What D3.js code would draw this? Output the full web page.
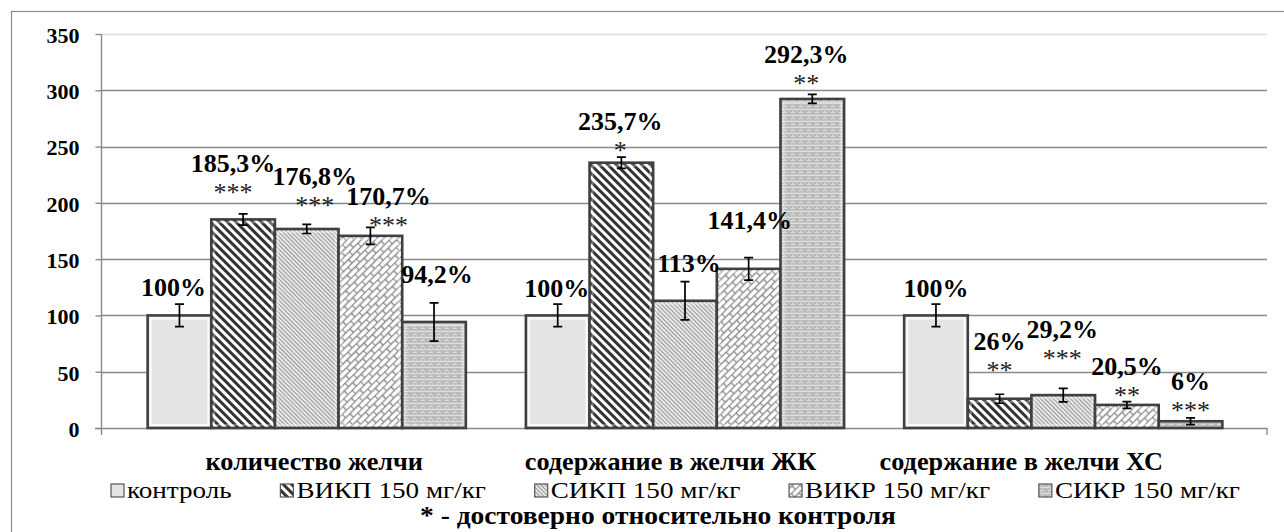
<!DOCTYPE html>
<html><head><meta charset="utf-8">
<script src="https://cdn.jsdelivr.net/npm/d3@7"></script>
<style>body{margin:0;background:#fff;overflow:hidden} svg{display:block}</style>
</head><body><svg id="c" width="1284" height="532"></svg>
<script>
// ---------- data ----------
const categories = ["количество желчи", "содержание в желчи ЖК", "содержание в желчи ХС"];
const seriesNames = ["контроль", "ВИКП 150 мг/кг", "СИКП 150 мг/кг", "ВИКР 150 мг/кг", "СИКР 150 мг/кг"];
const valuesBile = [100, 185.3, 176.8, 170.7, 94.2];
const valuesBA   = [100, 235.7, 113, 141.4, 292.3];
const valuesChol = [100, 26, 29.2, 20.5, 6];
const errBile = [10, 5, 4, 7.5, 17];
const errBA   = [10, 5, 17, 10, 4];
const errChol = [10, 4, 6, 3, 3];
const starsBile = ["", "***", "***", "***", ""];
const starsBA   = ["", "*", "", "", "**"];
const starsChol = ["", "**", "***", "**", "***"];
const yTicks = [0, 50, 100, 150, 200, 250, 300, 350];
const footnote = "* - достоверно относительно контроля";

// label placement nudges (lift above the bar in axis units, horizontal shift in px)
const liftBile = [17.3, 42.1, 39.1, 27.4, 34.6];
const liftBA   = [16.6, 29.0, 25.8, 35.4, 32.2];
const liftChol = [16.6, 43.3, 50.5, 26.6, 27.8];
const shiftBile = [-6, -10, 8, 18, 3];
const shiftBA   = [-1, -1, 4, 1, -6];
const shiftChol = [0, 0, -1, 0, 0];
const catShift = [7.5, -14.5, -42];

const values = [valuesBile, valuesBA, valuesChol];
const errs = [errBile, errBA, errChol];
const stars = [starsBile, starsBA, starsChol];
const lifts = [liftBile, liftBA, liftChol];
const shifts = [shiftBile, shiftBA, shiftChol];

// ---------- setup ----------
const svg = d3.select("#c");
const FONT = '"Liberation Serif"';
const x0 = d3.scaleBand().domain(categories).range([103, 1267]).paddingInner(0.1587).paddingOuter(0.118);
const x1 = d3.scaleBand().domain(seriesNames).range([0, x0.bandwidth()]);
const y = d3.scaleLinear().domain([0, 350]).range([428, 34]);

// ---------- patterns ----------
const defs = svg.append("defs");
let p = defs.append("pattern").attr("id", "p0").attr("patternUnits", "userSpaceOnUse").attr("width", 4).attr("height", 4);
p.append("rect").attr("width", 4).attr("height", 4).attr("fill", "#e4e4e4");
p = defs.append("pattern").attr("id", "p1").attr("patternUnits", "userSpaceOnUse").attr("width", 6).attr("height", 6).attr("patternTransform", "rotate(-45)");
p.append("rect").attr("width", 6).attr("height", 6).attr("fill", "#ffffff");
p.append("rect").attr("width", 3).attr("height", 6).attr("fill", "#333333");
p = defs.append("pattern").attr("id", "p2").attr("patternUnits", "userSpaceOnUse").attr("width", 3).attr("height", 3).attr("patternTransform", "rotate(-45)");
p.append("rect").attr("width", 3).attr("height", 3).attr("fill", "#eeeeee");
p.append("rect").attr("width", 1.2).attr("height", 3).attr("fill", "#9a9a9a");
p = defs.append("pattern").attr("id", "p3").attr("patternUnits", "userSpaceOnUse").attr("width", 12).attr("height", 10).attr("patternTransform", "rotate(-45)");
p.append("rect").attr("width", 12).attr("height", 10).attr("fill", "#ffffff");
p.append("path").attr("d", "M0,0.5H12M0,5.5H12M0.5,0V5.5M6.5,5.5V10").attr("stroke", "#8c8c8c").attr("stroke-width", 1.4).attr("fill", "none");
p = defs.append("pattern").attr("id", "p4").attr("patternUnits", "userSpaceOnUse").attr("width", 8).attr("height", 6);
p.append("rect").attr("width", 8).attr("height", 6).attr("fill", "#b9b9b9");
p.append("path").attr("d", "M0,2 L2,0.8 L4,2 L6,0.8 L8,2 M1,5 L3,3.8 L5,5").attr("stroke", "#f4f4f4").attr("stroke-width", 0.9).attr("fill", "none");

// ---------- outer border ----------
svg.append("rect").attr("x", 11.5).attr("y", 11.5).attr("width", 1300).attr("height", 560)
  .attr("fill", "none").attr("stroke", "#8c8c8c").attr("stroke-width", 1.2);

// ---------- gridlines ----------
svg.append("g").selectAll("line").data(yTicks.filter(t => t > 0)).join("line")
  .attr("x1", 101).attr("x2", 1267)
  .attr("y1", d => Math.round(y(d)) + 0.5).attr("y2", d => Math.round(y(d)) + 0.5)
  .attr("stroke", d => d === 350 ? "#dcdcdc" : "#8a8a8a").attr("stroke-width", 1.4);

// ---------- y axis ----------
const ya = svg.append("g").attr("transform", "translate(101.5,0)")
  .call(d3.axisLeft(y).tickValues(yTicks).tickSize(6).tickPadding(16));
ya.select(".domain").remove();
ya.selectAll(".tick line").attr("stroke", "#8a8a8a").attr("stroke-width", 1.4);
ya.selectAll(".tick text").style("font-family", FONT).attr("font-weight", "bold").attr("font-size", 22)
  .attr("fill", "#000").attr("dy", "0.38em");
svg.append("line").attr("x1", 101.5).attr("x2", 101.5).attr("y1", y(350)).attr("y2", 435)
  .attr("stroke", "#8a8a8a").attr("stroke-width", 1.4);
svg.append("line").attr("x1", 95).attr("x2", 1267).attr("y1", y(0) + 0.5).attr("y2", y(0) + 0.5)
  .attr("stroke", "#8a8a8a").attr("stroke-width", 1.6);
svg.append("line").attr("x1", 1267).attr("x2", 1267).attr("y1", y(0)).attr("y2", y(0) + 7)
  .attr("stroke", "#8a8a8a").attr("stroke-width", 1.4);

// ---------- bars ----------
const groups = svg.append("g").selectAll("g").data(categories).join("g")
  .attr("transform", c => `translate(${x0(c)},0)`);

groups.each(function (c, ci) {
  const g = d3.select(this);
  const rows = seriesNames.map((s, si) => ({ s, si, v: values[ci][si], e: errs[ci][si], st: stars[ci][si], lift: lifts[ci][si], dx: shifts[ci][si] }));
  g.selectAll("rect.bar").data(rows).join("rect").attr("class", "bar")
    .attr("x", d => x1(d.s)).attr("y", d => y(d.v))
    .attr("width", x1.bandwidth()).attr("height", d => y(0) - y(d.v))
    .attr("fill", d => `url(#p${d.si})`)
    .attr("stroke", "#404040").attr("stroke-width", 2.6);
  g.selectAll("rect.bev").data(rows.filter(d => y(0) - y(d.v) > 8)).join("rect").attr("class", "bev")
    .attr("x", d => x1(d.s) + 3).attr("y", d => y(d.v) + 3)
    .attr("width", x1.bandwidth() - 6).attr("height", d => y(0) - y(d.v) - 6)
    .attr("fill", "none").attr("stroke", d => d.si === 0 ? "rgba(255,255,255,0.85)" : "rgba(255,255,255,0.35)")
    .attr("stroke-width", 2);
  const cx = d => x1(d.s) + x1.bandwidth() / 2;
  g.selectAll("path.err").data(rows).join("path").attr("class", "err")
    .attr("d", d => {
      const t = y(d.v + d.e), b = y(d.v - d.e), c0 = cx(d);
      return `M${c0},${t}V${b}M${c0 - 4.5},${t}H${c0 + 4.5}M${c0 - 4.5},${b}H${c0 + 4.5}`;
    })
    .attr("stroke", "#000").attr("stroke-width", 1.7).attr("fill", "none");
  g.selectAll("text.val").data(rows).join("text").attr("class", "val")
    .attr("x", d => cx(d) + d.dx).attr("y", d => y(d.v + d.lift))
    .attr("text-anchor", "middle").style("font-family", FONT).attr("font-weight", "bold").attr("font-size", 26)
    .attr("fill", "#000")
    .text(d => String(d.v).replace(".", ",") + "%");
  g.selectAll("text.star").data(rows.filter(d => d.st)).join("text").attr("class", "star")
    .attr("x", d => cx(d) + d.dx).attr("y", d => y(d.v + d.lift) + 29)
    .attr("text-anchor", "middle").style("font-family", FONT).attr("font-size", 26)
    .attr("fill", "#222")
    .text(d => d.st);
});

// ---------- category labels ----------
svg.append("g").selectAll("text").data(categories).join("text")
  .attr("transform", (c, i) => `translate(${x0(c) + x0.bandwidth() / 2 + catShift[i]},470) scale(1.05,1)`)
  .attr("text-anchor", "middle").style("font-family", FONT).attr("font-weight", "bold").attr("font-size", 25)
  .attr("fill", "#000").text(c => c);

// ---------- legend ----------
const LSX = 1.13;
const leg = svg.append("g");
const items = leg.selectAll("g").data(seriesNames).join("g");
items.append("rect").attr("x", 0).attr("y", 484).attr("width", 13).attr("height", 13)
  .attr("fill", (d, i) => `url(#p${i})`).attr("stroke", "#555").attr("stroke-width", 1.2);
items.append("text").attr("transform", `translate(16,498) scale(${LSX},1)`).style("font-family", FONT).attr("font-size", 24)
  .attr("fill", "#000").text(d => d);
const widths = [];
items.each(function () { widths.push(16 + LSX * d3.select(this).select("text").node().getComputedTextLength()); });
const legStart = 111, legEnd = 1240;
const gap = (legEnd - legStart - d3.sum(widths)) / (widths.length - 1);
let xx = legStart;
items.attr("transform", (d, i) => { const t = `translate(${xx},0)`; xx += widths[i] + gap; return t; });

// ---------- footnote ----------
svg.append("text").attr("transform", "translate(658,524) scale(1.1,1)").attr("text-anchor", "middle")
  .style("font-family", FONT).attr("font-weight", "bold").attr("font-size", 25).attr("fill", "#000")
  .text(footnote);
</script>
</body></html>
